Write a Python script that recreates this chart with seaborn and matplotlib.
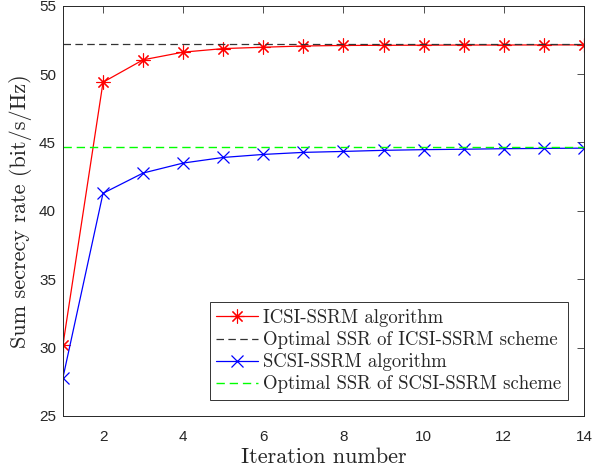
import numpy as np
import pandas as pd
import matplotlib
matplotlib.use("Agg")
import matplotlib.pyplot as plt
import seaborn as sns

iterations = list(range(1, 15))
icsi_ssrm = [30.2, 49.4, 51.04, 51.6, 51.86, 51.96, 52.05, 52.09, 52.1, 52.11, 52.12, 52.12, 52.13, 52.13]
scsi_ssrm = [27.8, 41.28, 42.76, 43.49, 43.9, 44.12, 44.27, 44.34, 44.42, 44.47, 44.5, 44.54, 44.56, 44.58]
icsi_opt = 52.17
scsi_opt = 44.65
xticks = [2, 4, 6, 8, 10, 12, 14]
yticks = [25, 30, 35, 40, 45, 50, 55]

sns.set_style("white")
plt.rcParams["xtick.direction"] = "in"
plt.rcParams["ytick.direction"] = "in"

fig = plt.figure(figsize=(5.94, 4.71), dpi=100)
ax = fig.add_axes([0.106, 0.117, 0.877, 0.871])

df = pd.DataFrame({"it": iterations, "icsi": icsi_ssrm, "scsi": scsi_ssrm})
sns.lineplot(data=df, x="it", y="icsi", ax=ax, color="red", marker=(8, 2, 0), markersize=10,
             markeredgewidth=0.8, markeredgecolor="red", linewidth=0.9, label="ICSI-SSRM algorithm")
ax.plot([iterations[0], iterations[-1]], [icsi_opt, icsi_opt], ls=(0, (6, 3.5)), color="#333333",
        lw=0.9, label="Optimal SSR of ICSI-SSRM scheme")
sns.lineplot(data=df, x="it", y="scsi", ax=ax, color="blue", marker="x", markersize=8,
             markeredgewidth=0.9, markeredgecolor="blue", linewidth=0.9, label="SCSI-SSRM algorithm")
ax.plot([iterations[0], iterations[-1]], [scsi_opt, scsi_opt], ls=(0, (6, 3.5)), color="#00ff00",
        lw=1.0, label="Optimal SSR of SCSI-SSRM scheme")

ax.set_xlim(1, 14)
ax.set_ylim(25, 55)
ax.set_xticks(xticks)
ax.set_yticks(yticks)
ax.tick_params(top=True, right=True, length=5, width=0.6, color="#333333",
               labelsize=11, labelcolor="#262626")
ax.tick_params(axis="x", pad=10)
ax.tick_params(axis="y", pad=5)
for lab in ax.get_xticklabels() + ax.get_yticklabels():
    lab.set_fontfamily("Liberation Sans")
for s in ax.spines.values():
    s.set_color("#262626")
    s.set_linewidth(0.7)

ax.set_xlabel("Iteration number", fontfamily="cmr10", fontsize=16, color="#262626", labelpad=3)
ax.set_ylabel("Sum secrecy rate (bit/s/Hz)", fontfamily="cmr10", fontsize=16, color="#262626", labelpad=5)

leg = ax.legend(loc="lower right", prop={"family": "cmr10", "size": 13.5}, fancybox=False,
                framealpha=1, edgecolor="#333333", borderpad=0.35, labelspacing=0.22,
                handlelength=2.2, handletextpad=0.3, borderaxespad=0.85)
leg.get_frame().set_linewidth(0.7)

fig.savefig("out.png", dpi=100)
